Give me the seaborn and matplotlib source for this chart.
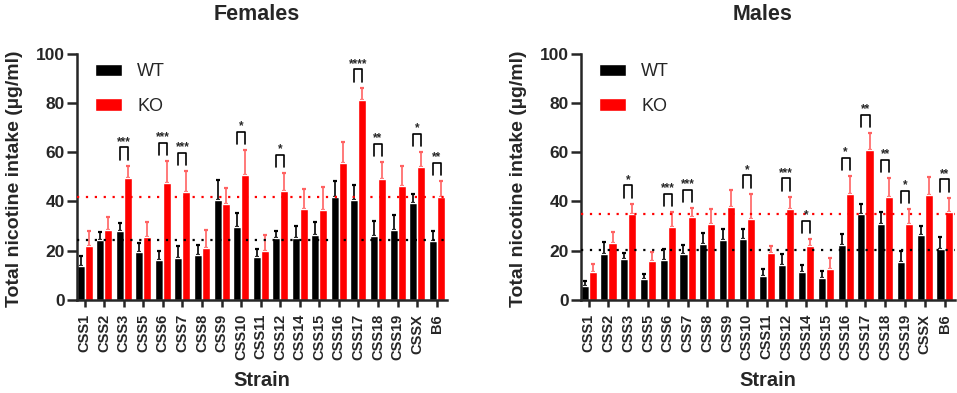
import numpy as np
import pandas as pd
import matplotlib
matplotlib.use('Agg')
import matplotlib.pyplot as plt
import seaborn as sns

# Strains on the x axis
strains = ['CSS1', 'CSS2', 'CSS3', 'CSS5', 'CSS6', 'CSS7', 'CSS8', 'CSS9', 'CSS10',
           'CSS11', 'CSS12', 'CSS14', 'CSS15', 'CSS16', 'CSS17', 'CSS18', 'CSS19',
           'CSSX', 'B6']

# Females: mean and SEM (ug/ml)
fem_wt = [13.9, 24.4, 27.9, 19.5, 16.1, 16.9, 18.2, 40.7, 29.7, 17.3, 25.2, 25.2,
          26.3, 41.7, 40.6, 25.9, 28.4, 39.4, 24.0]
fem_wt_sem = [3.8, 3.2, 3.4, 3.7, 3.8, 5.0, 4.2, 8.0, 5.7, 3.3, 2.9, 4.8, 5.3, 6.5,
              6.1, 6.1, 6.1, 3.6, 3.9]
fem_ko = [22.0, 28.4, 49.6, 25.6, 47.5, 43.7, 21.2, 38.9, 50.8, 19.9, 44.1, 36.9,
          36.5, 55.6, 81.0, 49.2, 46.2, 53.8, 41.9]
fem_ko_sem = [6.0, 5.4, 4.8, 6.1, 8.8, 8.5, 7.1, 6.6, 10.0, 6.4, 7.3, 8.0, 9.4, 8.5,
              5.1, 6.7, 8.0, 6.2, 6.3]
fem_sig = ['', '', '***', '', '***', '***', '', '', '*', '', '*', '', '', '',
           '****', '**', '', '*', '**']
fem_wt_avg = 24.3
fem_ko_avg = 41.8

# Males: mean and SEM (ug/ml)
male_wt = [5.8, 18.7, 16.5, 8.4, 16.1, 18.7, 22.8, 24.2, 24.6, 9.7, 14.1, 11.5, 8.9,
           22.4, 34.8, 30.9, 15.3, 26.3, 20.7]
male_wt_sem = [1.9, 4.9, 2.5, 2.1, 4.6, 3.5, 4.3, 4.7, 4.3, 3.0, 4.5, 2.6, 2.9, 4.3,
               4.0, 4.9, 4.6, 3.7, 5.0]
male_ko = [11.5, 23.0, 35.0, 15.7, 29.6, 33.6, 30.9, 37.7, 33.0, 19.1, 36.9, 21.8,
           12.7, 42.9, 60.7, 41.7, 30.9, 42.7, 35.6]
male_ko_sem = [3.0, 4.5, 4.0, 3.8, 6.1, 3.6, 6.0, 6.8, 10.1, 2.9, 5.0, 2.8, 4.2, 7.4,
               6.9, 7.7, 5.9, 7.3, 5.9]
male_sig = ['', '', '*', '', '***', '***', '', '', '*', '', '***', '*', '', '*',
            '**', '**', '*', '', '**']
male_wt_avg = 20.4
male_ko_avg = 35.0

RED = '#ff0000'
RED_ERR = '#ff6262'

sns.set_style('ticks')
plt.rcParams['font.family'] = ['Liberation Sans', 'DejaVu Sans']

W, H = 957, 393
fig = plt.figure(figsize=(W / 100, H / 100), dpi=100)


def draw_panel(rect, title, title_x, wt, wt_sem, ko, ko_sem, sig, wt_avg, ko_avg):
    ax = fig.add_axes(rect)
    df = pd.DataFrame({
        'Strain': strains * 2,
        'Intake': wt + ko,
        'Genotype': ['WT'] * len(strains) + ['KO'] * len(strains),
    })
    sns.barplot(data=df, x='Strain', y='Intake', hue='Genotype',
                palette={'WT': 'black', 'KO': RED}, errorbar=None,
                width=0.82, saturation=1, ax=ax, zorder=2)

    wt_x = np.array([b.get_x() + b.get_width() / 2 for b in ax.containers[0]])
    ko_x = np.array([b.get_x() + b.get_width() / 2 for b in ax.containers[1]])
    n = len(strains)
    ax.errorbar(wt_x, wt, yerr=[np.zeros(n), wt_sem], fmt='none', ecolor='black',
                elinewidth=1.2, capsize=1.3, capthick=1.6, zorder=1)
    ax.errorbar(ko_x, ko, yerr=[np.zeros(n), ko_sem], fmt='none', ecolor=RED_ERR,
                elinewidth=1.2, capsize=1.3, capthick=1.6, zorder=1)

    # reference lines
    ax.axhline(ko_avg, color=RED, lw=1.6, ls=(0, (1, 3)), zorder=3)
    ax.axhline(wt_avg, color='black', lw=1.6, ls=(0, (1, 3)), zorder=3)

    # significance brackets
    for i, s in enumerate(sig):
        if not s:
            continue
        base = max(wt[i] + wt_sem[i], ko[i] + ko_sem[i]) + 2.5
        top = base + 5
        ax.plot([wt_x[i], wt_x[i], ko_x[i], ko_x[i]], [base, top, top, base],
                color='black', lw=1.2, zorder=4)
        ax.text((wt_x[i] + ko_x[i]) / 2, top + 1.0, s, ha='center', va='baseline',
                fontsize=8.5, fontweight='bold')

    ax.set_xlim(-0.39, 18.53)
    ax.set_ylim(0, 100)
    ax.set_yticks([0, 20, 40, 60, 80, 100])
    sns.despine(ax=ax)
    for sp in ['left', 'bottom']:
        ax.spines[sp].set_linewidth(1.8)
    ax.tick_params(axis='y', length=7, width=1.8, pad=2, labelsize=12.5)
    ax.tick_params(axis='x', length=5, width=1.8, pad=5, labelsize=10.5)
    ax.set_xticks(range(n))
    ax.set_xticklabels(strains, rotation=90)
    for lab in ax.get_xticklabels() + ax.get_yticklabels():
        lab.set_fontweight('bold')

    ax.set_ylabel('Total nicotine intake (µg/ml)', fontsize=14, fontweight='bold')
    ax.yaxis.set_label_coords(-54 / (rect[2] * W), 0.49)
    ax.set_xlabel('Strain', fontsize=14.5, fontweight='bold')
    ax.xaxis.set_label_coords(0.5, -0.288)

    sns.move_legend(ax, 'upper left', bbox_to_anchor=(18 / (rect[2] * W), 0.96),
                    frameon=False, title=None, fontsize=13, handlelength=1.5,
                    handleheight=0.67, labelspacing=0.97, handletextpad=0.83,
                    borderpad=0, borderaxespad=0)

    fig.text(title_x / W, 1 - 15 / H, title, ha='center', va='center',
             fontsize=15.5, fontweight='bold')
    return ax


bottom = 1 - 300 / H
height = 246.5 / H
draw_panel([77 / W, bottom, 370 / W, height], 'Females', 257,
           fem_wt, fem_wt_sem, fem_ko, fem_ko_sem, fem_sig, fem_wt_avg, fem_ko_avg)
draw_panel([581 / W, bottom, 374 / W, height], 'Males', 763,
           male_wt, male_wt_sem, male_ko, male_ko_sem, male_sig, male_wt_avg, male_ko_avg)

fig.savefig('out.png', dpi=100)
